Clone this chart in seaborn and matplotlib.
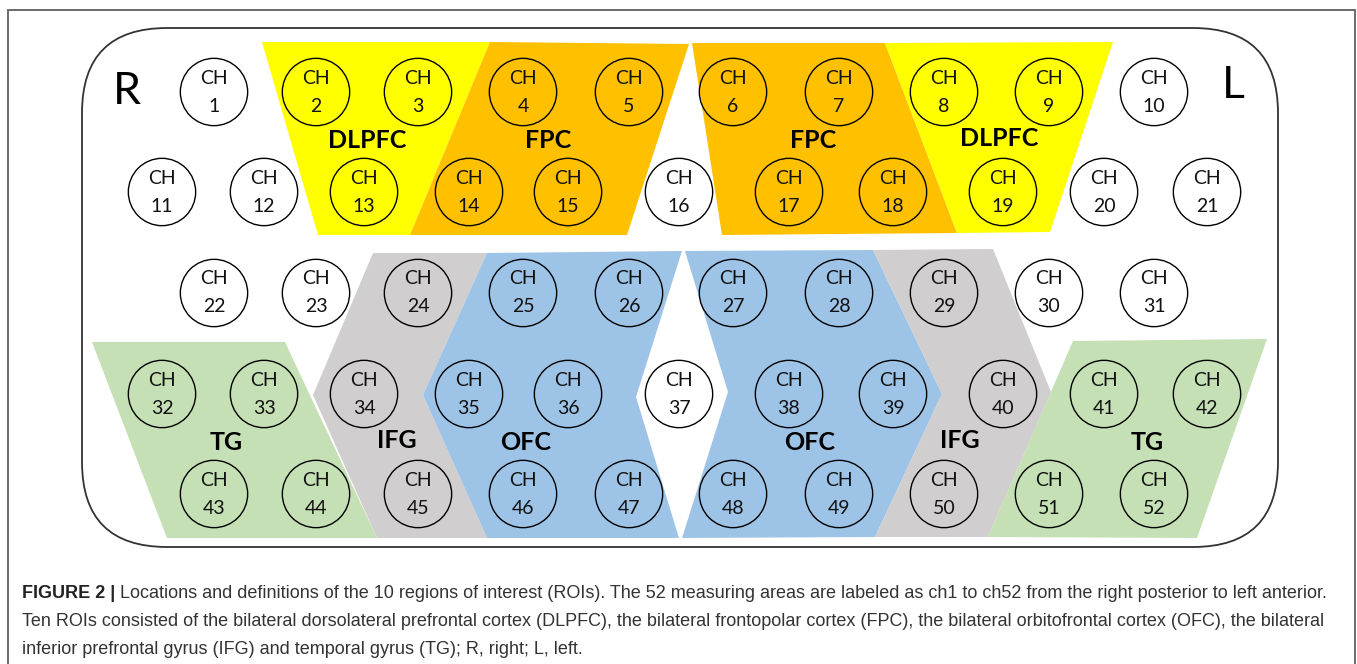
# fNIRS 52-channel layout with the 10 ROIs (Figure 2 recreation)

import numpy as np
import pandas as pd
import seaborn as sns
import matplotlib.pyplot as plt
from matplotlib.patches import FancyBboxPatch

sns.set_theme(style="white")
plt.rcParams['font.family'] = ['Lato', 'DejaVu Sans']

# channel grid: 5 rows, alternating 10 / 11 channels
row_sizes = [10, 11, 10, 11, 10]
row_y = [92, 192, 293, 394, 494]
odd_x = [214, 316, 418, 523, 629, 733, 839, 944, 1049, 1154]
even_x = [162, 264, 364, 469, 568, 679, 789, 893, 1003, 1104, 1207]

# ROI outlines (image pixel coords) and fill colours
roi_names = ["IFG", "OFC", "OFC", "IFG", "TG", "TG", "DLPFC", "FPC", "FPC", "DLPFC"]
roi_colors = ["#d0cece", "#9dc3e6", "#9dc3e6", "#d0cece", "#c5e0b4", "#c5e0b4",
              "#ffff00", "#ffc000", "#ffc000", "#ffff00"]
roi_outlines = [
    [(373, 253), (487, 253), (423, 395), (487, 538), (377, 538), (313, 395)],
    [(487, 253), (682, 251), (636, 397), (679, 538), (487, 538), (423, 395)],
    [(685, 251), (873, 250), (942, 394), (875, 537), (682, 538), (728, 392)],
    [(873, 250), (993, 249), (1051, 392), (988, 537), (875, 537), (942, 394)],
    [(92, 342), (285, 342), (377, 538), (167, 538)],
    [(1073, 341), (1267, 339), (1197, 538), (988, 537)],
    [(262, 42), (490, 42), (410, 235), (318, 235)],
    [(490, 42), (689, 44), (627, 235), (410, 235)],
    [(692, 43), (885, 43), (957, 233), (722, 235)],
    [(885, 43), (1113, 42), (1050, 232), (957, 233)],
]
roi_label_xy = [(397, 441), (526, 442), (810, 442), (960, 440), (226, 442),
                (1147, 443), (367, 140), (548, 140), (813, 140), (999, 138)]

caption_bold = "FIGURE 2 |"
caption_lines = [
    " Locations and definitions of the 10 regions of interest (ROIs). The 52 measuring "
    "areas are labeled as ch1 to ch52 from the right posterior to left anterior.",
    "Ten ROIs consisted of the bilateral dorsolateral prefrontal cortex (DLPFC), the "
    "bilateral frontopolar cortex (FPC), the bilateral orbitofrontal cortex (OFC), the bilateral",
    "inferior prefrontal gyrus (IFG) and temporal gyrus (TG); R, right; L, left.",
]

# build channel table
rows = []
ch = 1
for r, n in enumerate(row_sizes):
    xs = odd_x if n == 10 else even_x
    for x in xs:
        rows.append({"ch": ch, "x": x, "y": row_y[r]})
        ch += 1
channels = pd.DataFrame(rows)

W, H = 1357, 664
fig = plt.figure(figsize=(W / 100, H / 100), dpi=100)
ax = fig.add_axes([0, 0, 1, 1])

# figure frame (open at the bottom)
ax.plot([8, 8, 1355, 1355], [H, 10, 10, H], color="#6b6b6b", lw=1.4,
        solid_joinstyle="miter")

# rounded head outline
ax.add_patch(FancyBboxPatch((82, 28), 1278 - 82, 547 - 28,
                            boxstyle="round,pad=0,rounding_size=85",
                            fc="none", ec="#333333", lw=1.3, zorder=1))

for outline, col in zip(roi_outlines, roi_colors):
    pts = np.array(outline)
    ax.fill(pts[:, 0], pts[:, 1], color=col, lw=0, zorder=2)

for name, (x, y) in zip(roi_names, roi_label_xy):
    ax.text(x, y, name, ha="center", va="center", fontsize=18,
            fontweight="bold", color="black", zorder=5)

# channel circles
sns.scatterplot(data=channels, x="x", y="y", s=2350, marker="o",
                facecolor="none", edgecolor="black", linewidth=1.0,
                ax=ax, zorder=4, legend=False)
ax.set_xlim(0, W)
ax.set_ylim(H, 0)
ax.axis("off")

for _, c in channels.iterrows():
    ax.text(c.x, c.y - 14, "CH", ha="center", va="center", fontsize=14,
            color="#111111", zorder=5)
    ax.text(c.x, c.y + 14, str(c.ch), ha="center", va="center", fontsize=14,
            color="#111111", zorder=5)

ax.text(127, 92, "R", ha="center", va="center", fontsize=32, color="black")
ax.text(1233, 86, "L", ha="center", va="center", fontsize=32, color="black")

# caption: bold lead-in, then the rest of line 1 right after it
cap_font = ['Liberation Sans', 'DejaVu Sans']
cap_size = 13
t = ax.text(22, 594, caption_bold, ha="left", va="center", fontsize=cap_size,
            fontweight="bold", color="#222222", family=cap_font)
fig.canvas.draw()
bb = t.get_window_extent()
x_after = ax.transData.inverted().transform((bb.x1, bb.y0))[0]
ax.text(x_after, 594, caption_lines[0], ha="left", va="center", fontsize=cap_size,
        color="#333333", family=cap_font)
for i, line in enumerate(caption_lines[1:]):
    ax.text(22, 622 + 28 * i, line, ha="left", va="center", fontsize=cap_size,
            color="#333333", family=cap_font)

fig.savefig("out.png", dpi=100)
